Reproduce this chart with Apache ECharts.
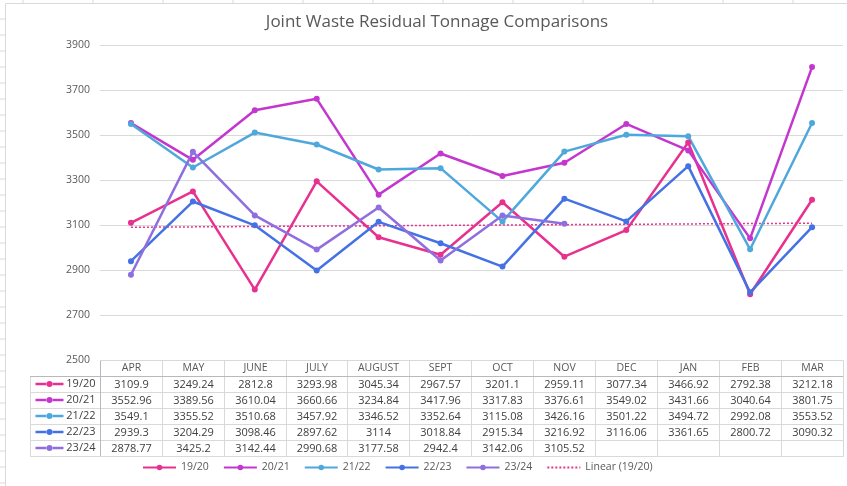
<!DOCTYPE html>
<html>
<head>
<meta charset="UTF-8">
<title>Joint Waste Residual Tonnage Comparisons</title>
<style>
    body { margin:0; padding:0; background:#fff; }
    #main { width:847px; height:486px; }
</style>
</head>
<body>
<div id="main"></div>
<script src="https://cdn.jsdelivr.net/npm/echarts@6/dist/echarts.min.js"></script>
<script>
// months of the financial year
var months = ['APR', 'MAY', 'JUNE', 'JULY', 'AUGUST', 'SEPT', 'OCT', 'NOV', 'DEC', 'JAN', 'FEB', 'MAR'];
var seriesNames = ['19/20', '20/21', '21/22', '22/23', '23/24'];
var y1920 = [3109.9, 3249.24, 2812.8, 3293.98, 3045.34, 2967.57, 3201.1, 2959.11, 3077.34, 3466.92, 2792.38, 3212.18];
var y2021 = [3552.96, 3389.56, 3610.04, 3660.66, 3234.84, 3417.96, 3317.83, 3376.61, 3549.02, 3431.66, 3040.64, 3801.75];
var y2122 = [3549.1, 3355.52, 3510.68, 3457.92, 3346.52, 3352.64, 3115.08, 3426.16, 3501.22, 3494.72, 2992.08, 3553.52];
var y2223 = [2939.3, 3204.29, 3098.46, 2897.62, 3114, 3018.84, 2915.34, 3216.92, 3116.06, 3361.65, 2800.72, 3090.32];
var y2324 = [2878.77, 3425.2, 3142.44, 2990.68, 3177.58, 2942.4, 3142.06, 3105.52, null, null, null, null];
// linear trend of 19/20, end values
var trend1920 = [3090, null, null, null, null, null, null, null, null, null, null, 3108];

var colors = ['#e8318f', '#c437ce', '#4fa8dc', '#4472e4', '#8f6fe0'];
var allData = [y1920, y2021, y2122, y2223, y2324];

var chart = echarts.init(document.getElementById('main'));

// row headers of the data table: small legend key + name
var rich = {};
var rowLabels = seriesNames.map(function (n, i) {
    rich['l' + i] = { width: 11, height: 2.5, backgroundColor: colors[i] };
    rich['d' + i] = { width: 6, height: 6, borderRadius: 3, backgroundColor: colors[i] };
    return '{l' + i + '|}{d' + i + '|}{l' + i + '|} ' + n;
});

var cells = [];
allData.forEach(function (row, r) {
    row.forEach(function (v, c) {
        if (v != null) cells.push({ coord: [c, r], value: String(v) });
    });
});

var series = seriesNames.map(function (n, i) {
    return {
        name: n,
        type: 'line',
        data: allData[i],
        symbol: 'circle',
        symbolSize: 6,
        color: colors[i],
        lineStyle: { width: 2.5 }
    };
});
series.push({
    name: 'Linear (19/20)',
    type: 'line',
    data: trend1920,
    connectNulls: true,
    symbol: 'none',
    color: '#e8318f',
    lineStyle: { width: 1.5, type: [2, 2] },
    z: 1
});

var sheetLines = [];
for (var y = 19; y < 486; y += 16) {
    sheetLines.push({ type: 'line', shape: { x1: 0, y1: y, x2: 5, y2: y }, style: { stroke: '#d9d9d9' } });
}
for (var x = 23; x < 847; x += 70) {
    sheetLines.push({ type: 'line', shape: { x1: x, y1: 0, x2: x, y2: 3 }, style: { stroke: '#d9d9d9' } });
}
sheetLines.push({ type: 'rect', shape: { x: 5.5, y: 3.5, width: 845, height: 490 }, style: { fill: null, stroke: '#d9d9d9' } });

var option = {
    backgroundColor: '#fff',
    textStyle: { fontFamily: 'Open Sans' },
    title: {
        text: 'Joint Waste Residual Tonnage Comparisons',
        left: 432, top: 9, textAlign: 'center',
        textStyle: { fontSize: 17, fontWeight: 'normal', color: '#595959' }
    },
    graphic: sheetLines,
    legend: {
        bottom: 8, left: 137,
        itemWidth: 33, itemHeight: 7, itemGap: 14,
        textStyle: { fontSize: 10.5, color: '#595959' },
        data: seriesNames.concat([{ name: 'Linear (19/20)', itemStyle: { opacity: 0 } }])
    },
    grid: { left: 100, right: 4, top: 45, height: 315 },
    xAxis: {
        type: 'category',
        data: months,
        axisLine: { show: false },
        axisTick: { show: false },
        axisLabel: { show: false }
    },
    yAxis: {
        type: 'value',
        min: 2500, max: 3900, interval: 200,
        axisLabel: { fontSize: 10.5, color: '#595959', margin: 10, formatter: function (v) { return String(v); } },
        splitLine: { lineStyle: { color: '#d9d9d9' } }
    },
    matrix: {
        left: 30, top: 360, width: 813, height: 96,
        x: {
            data: months,
            label: { fontSize: 10.5, color: '#595959' },
            itemStyle: { borderColor: '#d9d9d9' }
        },
        y: {
            data: rowLabels,
            levels: [{ levelSize: 70 }],
            label: { fontSize: 11, color: '#404040', rich: rich },
            itemStyle: { borderColor: '#d9d9d9' }
        },
        body: {
            data: cells,
            label: { fontSize: 11, color: '#404040' },
            itemStyle: { borderColor: '#d9d9d9' }
        },
        corner: { itemStyle: { borderColor: 'transparent', borderWidth: 0 } },
        backgroundStyle: { borderWidth: 0, borderColor: 'transparent' }
    },
    series: series
};
chart.setOption(option);
</script>
</body>
</html>
